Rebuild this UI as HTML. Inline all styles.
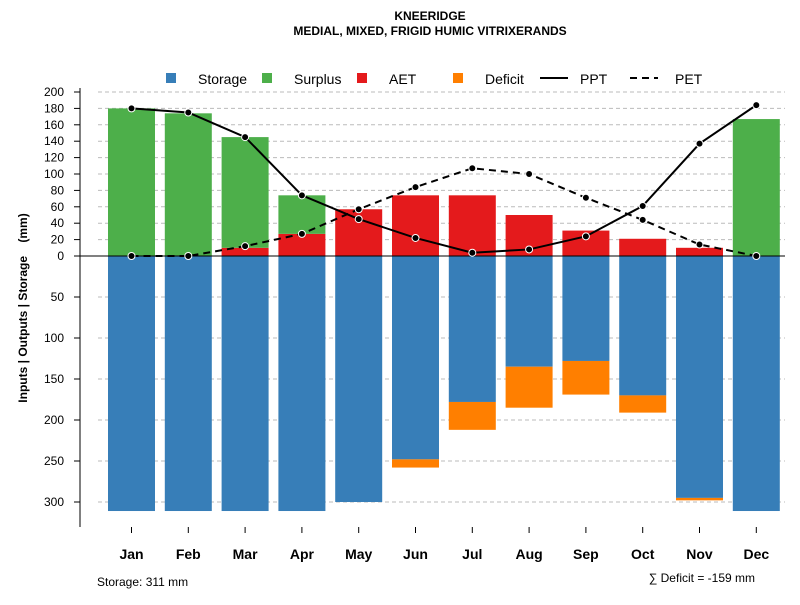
<!DOCTYPE html>
<html><head><meta charset="utf-8"><style>body{margin:0;background:#fff}svg{font-family:"Liberation Sans",sans-serif}</style></head>
<body>
<svg id="c" width="800" height="600" xmlns="http://www.w3.org/2000/svg">
<text x="430" y="20" text-anchor="middle" font-size="12" font-weight="bold">KNEERIDGE</text>
<text x="430" y="35" text-anchor="middle" font-size="12" font-weight="bold">MEDIAL, MIXED, FRIGID HUMIC VITRIXERANDS</text>
<text transform="translate(27,308) rotate(-90)" text-anchor="middle" font-size="12" font-weight="bold">Inputs | Outputs | Storage&#160;&#160;&#160;&#160;(mm)</text>
<text x="97" y="586" font-size="12">Storage: 311 mm</text>
<text x="755" y="582" text-anchor="end" font-size="12">∑ Deficit = -159 mm</text>
<g id="grid"></g><g id="bars"></g><g id="lines"></g><g id="axes"></g><g id="legend"></g>
</svg>
<script>
const months=["Jan","Feb","Mar","Apr","May","Jun","Jul","Aug","Sep","Oct","Nov","Dec"];
const storage=[311,311,311,311,300,248,178,135,128,170,295,311];
const deficit=[0,0,0,0,0,10,34,50,41,21,3,0];
const aet=[0,0,10,27,57,74,74,50,31,21,10,0];
const surplus=[180,174,135,47,0,0,0,0,0,0,0,167];
const ppt=[180,175,145,74,45,22,4,8,24,61,137,184];
const pet=[0,0,12,27,57,84,107,100,71,44,14,0];
const posTicks=[0,20,40,60,80,100,120,140,160,180,200];
const negTicks=[50,100,150,200,250,300];
const NS="http://www.w3.org/2000/svg";
const y0=256,k=0.82;
const y=v=>y0-v*k;
const x=i=>131.5+i*56.8;
const bw=47;
function mk(t,a,p){const e=document.createElementNS(NS,t);for(const n in a)e.setAttribute(n,a[n]);document.getElementById(p).appendChild(e);return e;}
posTicks.forEach(v=>{const l=mk('line',{x1:98,x2:785,y1:y(v),y2:y(v),stroke:'#bbb','stroke-dasharray':'4,3'},'grid');

});
negTicks.forEach(v=>{const l=mk('line',{x1:98,x2:785,y1:y(-v),y2:y(-v),stroke:'#bbb','stroke-dasharray':'4,3'},'grid');

});
months.forEach((m,i)=>{
 const cx=x(i)-bw/2;
 let r=mk('rect',{x:cx,y:y0,width:bw,height:storage[i]*k,fill:'#377eb8'},'bars');
 
 
 if(deficit[i]>0){r=mk('rect',{x:cx,y:y(-storage[i]),width:bw,height:deficit[i]*k,fill:'#ff7f00'},'bars');
 
 }
 if(aet[i]>0){r=mk('rect',{x:cx,y:y(aet[i]),width:bw,height:aet[i]*k,fill:'#e41a1c'},'bars');
 
 }
 if(surplus[i]>0){r=mk('rect',{x:cx,y:y(aet[i]+surplus[i]),width:bw,height:surplus[i]*k,fill:'#4daf4a'},'bars');
 
 }
});
let z=mk('line',{x1:80,x2:785,y1:y0,y2:y0,stroke:'#000'},'lines');


[[ppt,'','ppt-line'],[pet,'7,5','pet-line']].forEach(([d,dash,nm])=>{
 const p=mk('polyline',{points:d.map((v,i)=>x(i)+','+y(v)).join(' '),fill:'none',stroke:'#000','stroke-width':2,'stroke-dasharray':dash},'lines');
 
 
 d.forEach((v,i)=>{const c=mk('circle',{cx:x(i),cy:y(v),r:3.5,fill:'#000',stroke:'#fff','stroke-width':1},'lines');
 
 });
});
let a=mk('line',{x1:80,x2:80,y1:88,y2:527,stroke:'#000'},'axes');


function yt(v,lab){const t=mk('line',{x1:74,x2:80,y1:y(v),y2:y(v),stroke:'#000'},'axes');


const s=mk('text',{x:64,y:y(v)+4,'text-anchor':'end','font-size':12},'axes');s.textContent=lab;

}
posTicks.forEach(v=>yt(v,v));negTicks.forEach(v=>yt(-v,v));
months.forEach((m,i)=>{const t=mk('line',{x1:x(i),x2:x(i),y1:527,y2:533,stroke:'#000'},'axes');


const s=mk('text',{x:x(i),y:559,'text-anchor':'middle','font-size':14,'font-weight':'bold'},'axes');s.textContent=m;

});
const leg=[['Storage','#377eb8',166,198],['Surplus','#4daf4a',262,294],['AET','#e41a1c',357,389],['Deficit','#ff7f00',453,485]];
leg.forEach(([n,c,sx,tx])=>{const r=mk('rect',{x:sx,y:73,width:10,height:10,fill:c},'legend');


const t=mk('text',{x:tx,y:84,'font-size':14},'legend');t.textContent=n;

});
[['PPT','',540,580],['PET','7,5',630,675]].forEach(([n,d,sx,tx])=>{const l=mk('line',{x1:sx,x2:sx+28,y1:78,y2:78,stroke:'#000','stroke-width':2,'stroke-dasharray':d},'legend');


const t=mk('text',{x:tx,y:84,'font-size':14},'legend');t.textContent=n;

});
</script>
</body></html>
